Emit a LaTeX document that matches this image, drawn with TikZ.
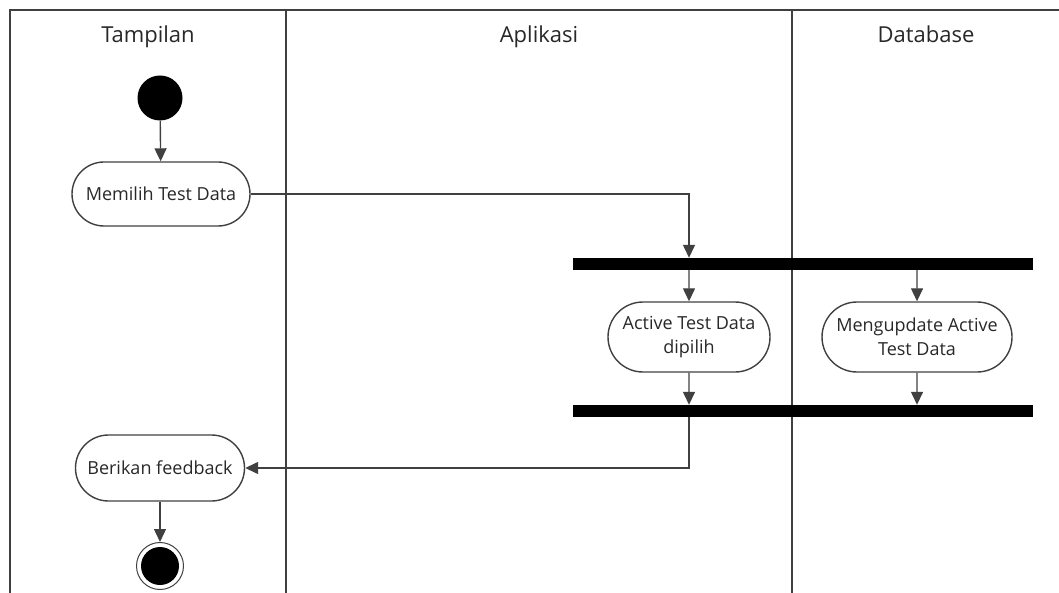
\documentclass[tikz,border=0pt]{standalone}
\usepackage{fontspec}
\setmainfont{Open Sans}
\usetikzlibrary{arrows.meta,positioning,shapes.misc}
\definecolor{ink}{RGB}{64,64,64}
\definecolor{txt}{RGB}{40,40,40}

\begin{document}
\begin{tikzpicture}[x=1pt,y=-1pt,
  lane/.style={draw=ink,line width=1.7pt},
  head/.style={anchor=base,text=txt,font=\fontsize{22}{26}\selectfont},
  act/.style={rounded rectangle,draw=ink,line width=1.4pt,align=center,inner sep=0pt,
    text=txt,font=\fontsize{18}{24}\selectfont},
  bar/.style={fill=black,inner sep=0pt,minimum width=460,minimum height=12},
  flow/.style={draw=ink,line width=1.4pt,-{Triangle[length=13pt,width=12pt]}}]
  \useasboundingbox (0,0) rectangle (1059,593);
  % swimlanes
  \draw[lane] (10,593) -- (10,10) -- (1059,10);
  \foreach \x in {286,792} \draw[lane] (\x,10) -- (\x,593);
  \node[head] (tampilan) at (148,43) {Tampilan};
  \node[head] (aplikasi) at (539,43) {Aplikasi};
  \node[head] (database) at (926,43) {Database};
  % activities
  \node[circle,fill=black,inner sep=0pt,minimum size=45] (start) at (160,98) {};
  \node[act,minimum width=178,minimum height=64] (memilih) at (161,194) {Memilih Test Data};
  \node[bar] (fork) at (803,264) {};
  \node[act,minimum width=162,minimum height=70] (aktif) at (689,337) {Active Test Data\\dipilih};
  \node[act,minimum width=190,minimum height=70] (update) at (917,337) {Mengupdate Active\\Test Data};
  \node[bar] (join) at (803,411) {};
  \node[act,minimum width=169,minimum height=66] (feedback) at (160,468) {Berikan feedback};
  \node[circle,draw=ink,line width=1pt,inner sep=0pt,minimum size=47] (stop) at (160,566) {};
  \fill[black] (stop.center) circle (19pt);
  % flows
  \draw[flow] (start) -- (memilih);
  \draw[flow] (memilih) -| (aktif |- fork.north);
  \draw[flow] (aktif |- fork.south) -- (aktif);
  \draw[flow] (update |- fork.south) -- (update);
  \draw[flow] (aktif) -- (aktif |- join.north);
  \draw[flow] (update) -- (update |- join.north);
  \draw[flow] (aktif |- join.south) |- (feedback);
  \draw[flow] (feedback) -- (stop);
\end{tikzpicture}
\end{document}
